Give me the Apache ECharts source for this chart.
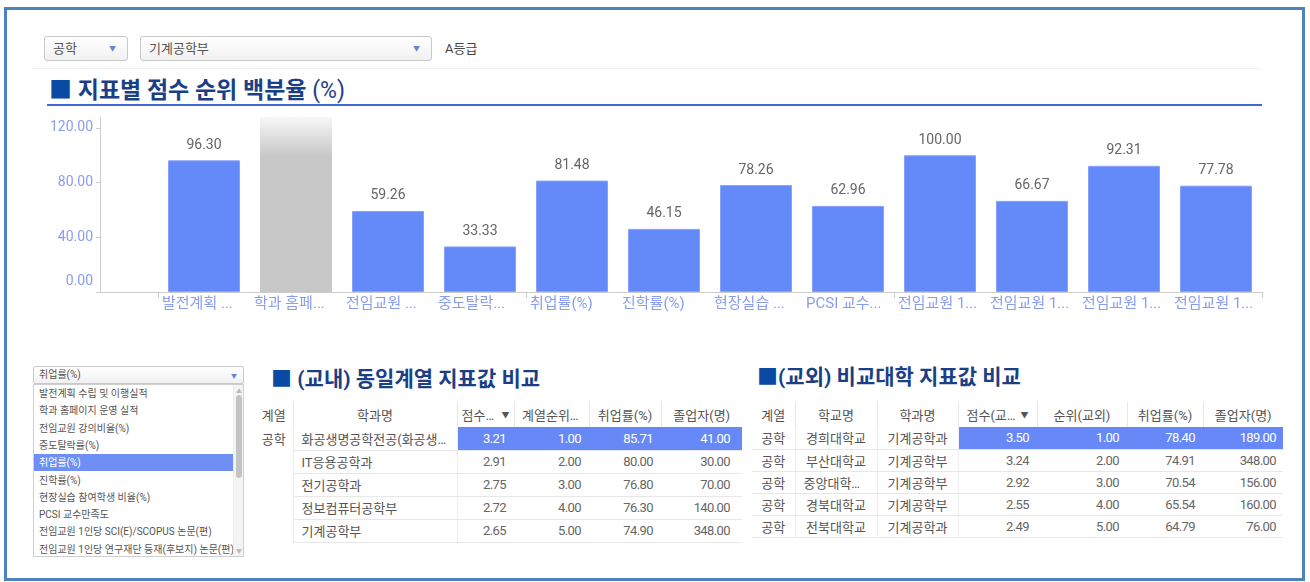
<!DOCTYPE html>
<html lang="ko">
<head>
<meta charset="utf-8">
<title>지표별 점수 순위 백분율</title>
<script src="https://cdn.jsdelivr.net/npm/echarts@6/dist/echarts.min.js"></script>
<style>
  html, body { margin: 0; padding: 0; background: #ffffff; }
  body { width: 1310px; height: 582px; position: relative; overflow: hidden;
         font-family: Roboto, "Noto Sans CJK KR", sans-serif; color: #555; }
  .abs { position: absolute; }
  .frame { left: 4px; top: 7px; width: 1295px; height: 568px; border: 3px solid #4f81bd; }
  .select { height: 23px; border: 1px solid #c9c9c9; border-radius: 3px;
            background: linear-gradient(#ffffff, #f1f1f1); font-size: 13px; line-height: 23px;
            box-sizing: content-box; }
  .select span.t { position: absolute; left: 8px; top: 0; color: #555; }
  .select span.a { position: absolute; right: 11px; top: 1px; color: #6b84d6; font-size: 7px; }
  .title { font-weight: bold; white-space: nowrap; color: #1b3f86; }
  .title .sq { color: #0a4aa5; }
  .list { border: 1px solid #cfcfcf; background: #fff; font-size: 10px; color: #555; }
  .list .item { position: absolute; left: 0; height: 17.3px; line-height: 17.3px; padding-left: 5px;
                width: 195px; white-space: nowrap; overflow: hidden; }
  .list .item.on { background: #6f8ff5; color: #fff; }
  table.grid { border-collapse: collapse; table-layout: fixed; font-size: 13px; }
  table.grid th { font-weight: normal; color: #555; height: 25px; padding: 0 4px;
                  border-right: 1px solid #e6e6e6; white-space: nowrap; overflow: hidden; }
  table.grid th:last-child { border-right: none; }
  table.grid th .lbl { display: inline-block; max-width: 100%; overflow: hidden;
                       text-overflow: ellipsis; vertical-align: middle; }
  table.grid th .srt { font-size: 8px; color: #555; margin-left: 4px; vertical-align: middle; }
  table.grid td { padding: 0 8px; white-space: nowrap; overflow: hidden; text-overflow: ellipsis;
                  border-bottom: 1px solid #e8e8e8; color: #555; }
  table.grid td.num { text-align: right; color: #666; letter-spacing: -0.6px; }
  table.grid td.c { text-align: center; }
  table.grid td.vl { border-left: 1px solid #eeeeee; }
  table.grid td.vr { border-right: 1px solid #eeeeee; }
  table.grid td.nob { border-bottom: none; vertical-align: top; }
  table.grid td.hl { background: #6689f7; color: #ffffff; }
</style>
</head>
<body>
<div class="abs frame"></div>

<div class="abs select" style="left:44px;top:36px;width:82px;"><span class="t" id="divisionSel"></span><span class="a">▼</span></div>
<div class="abs select" style="left:140px;top:36px;width:290px;"><span class="t" id="deptSel"></span><span class="a">▼</span></div>
<div class="abs" id="gradeText" style="left:445px;top:37px;line-height:23px;font-size:13px;color:#444;"></div>
<div class="abs" style="left:33px;top:68px;width:1227px;height:1px;background:#ececec;"></div>

<div class="abs title" style="left:49px;top:76px;font-size:23px;line-height:30px;">
  <span class="sq">■</span> 지표별 점수 순위 백분율 <span style="font-weight:normal;">(%)</span>
</div>
<div class="abs" style="left:47px;top:104px;width:1215px;height:2px;background:#4467d6;"></div>

<div id="chart" class="abs" style="left:0;top:108px;width:1310px;height:230px;"></div>

<div class="abs select" style="left:33px;top:366px;width:209px;height:16px;line-height:16px;font-size:10px;border-radius:2px;">
  <span class="t" style="left:5px;" id="indicatorSel"></span><span class="a" style="font-size:6px;right:6px;">▼</span>
</div>
<div class="abs list" id="indicatorList" style="left:33px;top:384px;width:209px;height:171px;"></div>

<div class="abs title" style="left:271px;top:365px;font-size:21px;line-height:28px;">
  <span class="sq">■</span> (교내) 동일계열 지표값 비교
</div>
<div class="abs title" style="left:757px;top:363px;font-size:21px;line-height:28px;">
  <span class="sq">■</span>(교외) 비교대학 지표값 비교
</div>

<table class="abs grid" id="innerTable" style="left:255px;top:402px;width:487px;"></table>
<table class="abs grid" id="outerTable" style="left:752px;top:402px;width:531px;"></table>

<script>
// ---- selections ----
const DIVISION = "공학";
const DEPARTMENT = "기계공학부";
const GRADE = "A등급";
const SELECTED_INDICATOR = 4;

// ---- bar chart ----
const INDICATORS = [
  "발전계획 수립 및 이행실적",
  "학과 홈페이지 운영 실적",
  "전임교원 강의비율(%)",
  "중도탈락률(%)",
  "취업률(%)",
  "진학률(%)",
  "현장실습 참여학생 비율(%)",
  "PCSI 교수만족도",
  "전임교원 1인당 SCI(E)/SCOPUS 논문(편)",
  "전임교원 1인당 연구재단 등재(후보지) 논문(편)",
  "전임교원 1인당 저역서(편)",
  "전임교원 1인당 교외연구비(천원)"
];
const PERCENTILES = [96.30, null, 59.26, 33.33, 81.48, 46.15, 78.26, 62.96, 100.00, 66.67, 92.31, 77.78];
const HOVER_INDEX = 1;
const Y_MIN = 0;
const Y_MAX = 128;
const Y_INTERVAL = 40;

// ---- (교내) 동일계열 ----
const INNER_HEADERS = ["계열", "학과명", "점수(교내)", "계열순위(교내)", "취업률(%)", "졸업자(명)"];
const INNER_DEPTS = ["화공생명공학전공(화공생명공학부)", "IT응용공학과", "전기공학과", "정보컴퓨터공학부", "기계공학부"];
const INNER_SCORES = [3.21, 2.91, 2.75, 2.72, 2.65];
const INNER_RANKS = [1, 2, 3, 4, 5];
const INNER_EMPLOY = [85.71, 80.00, 76.80, 76.30, 74.90];
const INNER_GRADS = [41, 30, 70, 140, 348];

// ---- (교외) 비교대학 ----
const OUTER_HEADERS = ["계열", "학교명", "학과명", "점수(교외)", "순위(교외)", "취업률(%)", "졸업자(명)"];
const OUTER_SCHOOLS = ["경희대학교", "부산대학교", "중앙대학교(서울)", "경북대학교", "전북대학교"];
const OUTER_DEPTS = ["기계공학과", "기계공학부", "기계공학부", "기계공학부", "기계공학과"];
const OUTER_SCORES = [3.50, 3.24, 2.92, 2.55, 2.49];
const OUTER_RANKS = [1, 2, 3, 4, 5];
const OUTER_EMPLOY = [78.40, 74.91, 70.54, 65.54, 64.79];
const OUTER_GRADS = [189, 348, 156, 160, 76];

const fmt = v => Number(v).toFixed(2);

document.getElementById("divisionSel").textContent = DIVISION;
document.getElementById("deptSel").textContent = DEPARTMENT;
document.getElementById("gradeText").textContent = GRADE;
document.getElementById("indicatorSel").textContent = INDICATORS[SELECTED_INDICATOR];

// indicator list box (first 10 visible, with scrollbar)
const list = document.getElementById("indicatorList");
INDICATORS.slice(0, 10).forEach((name, i) => {
  const div = document.createElement("div");
  div.className = "item" + (i === SELECTED_INDICATOR ? " on" : "");
  div.style.top = (i * 17.3) + "px";
  div.textContent = name;
  list.appendChild(div);
});
const track = document.createElement("div");
track.style.cssText = "position:absolute;right:0;top:0;width:9px;height:171px;background:#f4f4f4;border-left:1px solid #ececec;";
track.innerHTML =
  '<div style="position:absolute;left:2px;top:10px;width:6px;height:83px;background:#c3c3c3;border-radius:3px;"></div>' +
  '<div style="position:absolute;left:2px;top:1px;font-size:6px;color:#bbb;">▲</div>' +
  '<div style="position:absolute;left:2px;bottom:1px;font-size:6px;color:#bbb;">▼</div>';
list.appendChild(track);

function headerRow(headers, widths, sortIndex, sortLabelWidth, clipIndex) {
  let html = "<colgroup>" + widths.map(w => `<col style="width:${w}px">`).join("") + "</colgroup><tr>";
  headers.forEach((h, i) => {
    if (i === sortIndex) {
      html += `<th><span class="lbl" style="max-width:${sortLabelWidth}px">${h}</span><span class="srt">▼</span></th>`;
    } else if (i === clipIndex) {
      html += `<th><span class="lbl" style="max-width:${widths[i] - 16}px">${h}</span></th>`;
    } else {
      html += `<th><span class="lbl">${h}</span></th>`;
    }
  });
  return html + "</tr>";
}

// inner table
let inner = headerRow(INNER_HEADERS, [38, 164, 57, 75, 72, 81], 2, 36, 3);
INNER_DEPTS.forEach((dept, i) => {
  const hl = i === 0 ? " hl" : "";
  inner += `<tr style="height:23px">`;
  if (i === 0) inner += `<td class="c nob" rowspan="${INNER_DEPTS.length}" style="padding:2px 0 0 0;">${DIVISION}</td>`;
  inner += `<td class="vl vr">${dept}</td>`;
  inner += `<td class="num${hl}">${fmt(INNER_SCORES[i])}</td>`;
  inner += `<td class="num${hl}">${fmt(INNER_RANKS[i])}</td>`;
  inner += `<td class="num${hl}">${fmt(INNER_EMPLOY[i])}</td>`;
  inner += `<td class="num${hl}" style="padding-right:12px;">${fmt(INNER_GRADS[i])}</td></tr>`;
});
document.getElementById("innerTable").innerHTML = inner;

// outer table
let outer = headerRow(OUTER_HEADERS, [43, 82, 81, 79, 90, 76, 80], 3, 50, -1);
OUTER_SCHOOLS.forEach((school, i) => {
  const hl = i === 0 ? " hl" : "";
  outer += `<tr style="height:22px">`;
  outer += `<td class="c vr" style="padding:0;">${DIVISION}</td>`;
  outer += `<td class="c vr">${school}</td>`;
  outer += `<td class="c vr">${OUTER_DEPTS[i]}</td>`;
  outer += `<td class="num${hl}">${fmt(OUTER_SCORES[i])}</td>`;
  outer += `<td class="num${hl}">${fmt(OUTER_RANKS[i])}</td>`;
  outer += `<td class="num${hl}">${fmt(OUTER_EMPLOY[i])}</td>`;
  outer += `<td class="num${hl}" style="padding-right:7px;">${fmt(OUTER_GRADS[i])}</td></tr>`;
});
document.getElementById("outerTable").innerHTML = outer;

// ---- chart ----
const labelFont = 'Roboto, "Noto Sans CJK KR", sans-serif';
const axisBlue = "#8a9cf0";
const chart = echarts.init(document.getElementById("chart"));

// cut a category name so that it plus "..." fits in the band
const measureCtx = document.createElement("canvas").getContext("2d");
measureCtx.font = "15px " + labelFont;
function fitLabel(text, budget) {
  const w = s => measureCtx.measureText(s).width;
  if (!text || w(text) <= budget) return text;
  let s = text;
  while (s.length && w(s + "...") > budget) s = s.slice(0, -1);
  return s + "...";
}

const hoverShade = INDICATORS.map((_, i) => (i === HOVER_INDEX ? Y_MAX : null));

chart.setOption({
  animation: false,
  backgroundColor: "transparent",
  grid: { left: 158, right: 48, top: 9, height: 175, containLabel: false, outerBoundsMode: "none" },
  xAxis: [
    {
      type: "category",
      data: INDICATORS,
      position: "bottom",
      axisLine: { show: true, lineStyle: { color: "#cccccc", width: 1 } },
      axisTick: { show: true, length: 6, lineStyle: { color: "#cccccc" } },
      axisLabel: { show: false },
      splitLine: { show: false }
    },
    {
      // label carrier: labels left-aligned at each band start
      type: "category",
      data: INDICATORS.concat([""]),
      position: "bottom",
      boundaryGap: false,
      axisLine: { show: false },
      axisTick: { show: false },
      splitLine: { show: false },
      axisLabel: {
        interval: 0,
        align: "left",
        margin: 5,
        padding: [0, 0, 0, 4],
        color: axisBlue,
        fontSize: 15,
        fontFamily: labelFont,
        formatter: v => fitLabel(v, 80)
      }
    }
  ],
  yAxis: {
    type: "value",
    min: Y_MIN,
    max: Y_MAX,
    interval: Y_INTERVAL,
    offset: 58,
    axisLine: { show: true, lineStyle: { color: "#cccccc" } },
    axisTick: { show: true, length: 4, lineStyle: { color: "#cccccc" } },
    splitLine: { show: false },
    axisLabel: {
      showMaxLabel: false,
      margin: 7,
      color: axisBlue,
      fontSize: 14,
      fontFamily: labelFont,
      formatter: v => (v === 0 ? "{z|" + fmt(v) + "}" : fmt(v)),
      rich: { z: { color: axisBlue, fontSize: 14, fontFamily: labelFont, padding: [0, 0, 22, 0] } }
    }
  },
  series: [
    {
      name: "hover",
      type: "bar",
      data: hoverShade,
      barWidth: 72,
      barGap: "-100%",
      silent: true,
      z: 1,
      itemStyle: {
        color: new echarts.graphic.LinearGradient(0, 0, 0, 1, [
          { offset: 0, color: "#f8f8f8" },
          { offset: 0.22, color: "#c8c8c8" },
          { offset: 1, color: "#c8c8c8" }
        ])
      }
    },
    {
      name: "백분율",
      type: "bar",
      data: PERCENTILES,
      barWidth: 72,
      z: 2,
      itemStyle: { color: "#6489f8", borderColor: "#86a2fa", borderWidth: 1 },
      label: {
        show: true,
        position: "top",
        distance: 8,
        color: "#666666",
        fontSize: 14,
        fontFamily: labelFont,
        formatter: p => fmt(p.value)
      }
    }
  ],
  graphic: [
    {
      type: "line",
      silent: true,
      shape: { x1: 96, y1: 184.5, x2: 158, y2: 184.5 },
      style: { stroke: "#cccccc", lineWidth: 1 }
    }
  ]
});
</script>
</body>
</html>
